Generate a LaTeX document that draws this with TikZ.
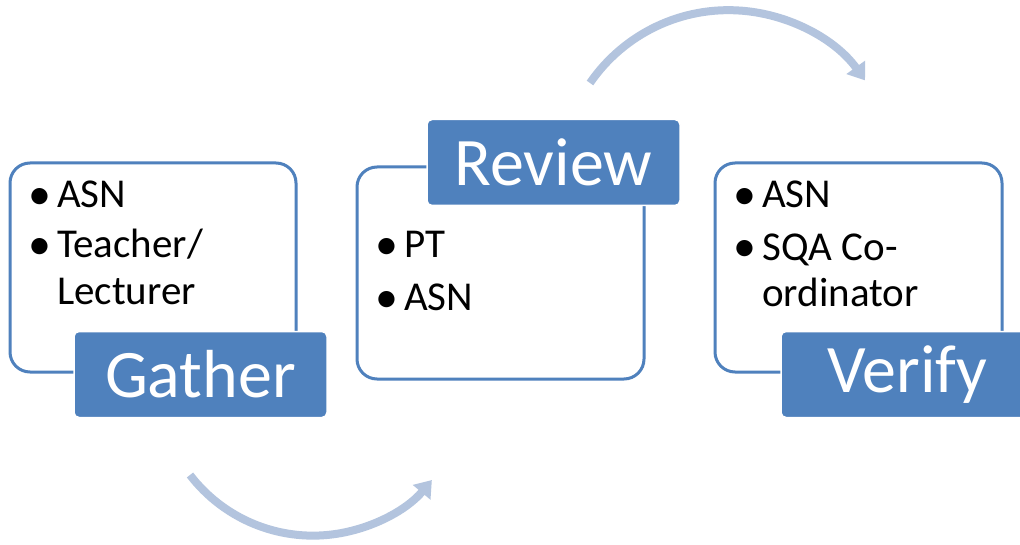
\documentclass[tikz,border=0pt]{standalone}
\usepackage{fontspec}
\setmainfont{Carlito}
\usetikzlibrary{arrows.meta}
\definecolor{accent}{HTML}{4F81BD}
\definecolor{arrowc}{HTML}{B3C4DE}
\newcommand\bul{\makebox[30pt][l]{\hspace{1pt}\raisebox{-0.03em}{\scalebox{1.12}{•}}}}
\begin{document}
\begin{tikzpicture}[x=1pt,y=-1pt,
  card/.style={draw=accent, line width=3pt, fill=white, rounded corners=20pt, inner sep=0pt},
  tag/.style={draw=white, line width=1.5pt, fill=accent, rounded corners=5pt, minimum width=253pt, minimum height=86pt, text=white, font=\fontsize{68}{68}\selectfont, inner sep=0pt},
  flow/.style={draw=arrowc, line width=8pt, -{Triangle[length=16pt,width=22pt]}},
  items/.style={anchor=base west, align=left, font=\fontsize{41}{47}\selectfont, inner sep=0pt}
]
\clip (0,0) rectangle (1020,545);
\fill[white] (0,0) rectangle (1020,545);

% arrows
\coordinate (t0) at (590,83);
\draw[flow] (t0) arc[start angle=-145.5, end angle=-35.6, radius=168];
\coordinate (b0) at (190,475);
\draw[flow] (b0) arc[start angle=142.5, end angle=39.9, radius=155];

% cards
\node[card, minimum width=286pt, minimum height=209pt] (gcard) at (153,267.5) {};
\node[card, minimum width=287pt, minimum height=212pt] (rcard) at (500.5,273) {};
\node[card, minimum width=287pt, minimum height=209pt] (vcard) at (858.5,267.5) {};

% items (anchor at baseline of last line)
\node[items] (gitems) at (27,305) {\bul ASN\\[3pt]\bul Teacher/\\\hspace*{30pt}Lecturer};
\node[items] (ritems) at (374,311) {\bul PT\\[6pt]\bul ASN};
\node[items] (vitems) at (732,307) {\bul ASN\\[5pt]\bul SQA Co-\\\hspace*{30pt}ordinator};

% tags
\node[tag] (gtag) at (200.5,374.5) {Gather};
\node[tag] (rtag) at (553.5,162.5) {Review};
\node[tag] (vtag) at (907.5,374.5) {Verify};
\end{tikzpicture}
\end{document}
